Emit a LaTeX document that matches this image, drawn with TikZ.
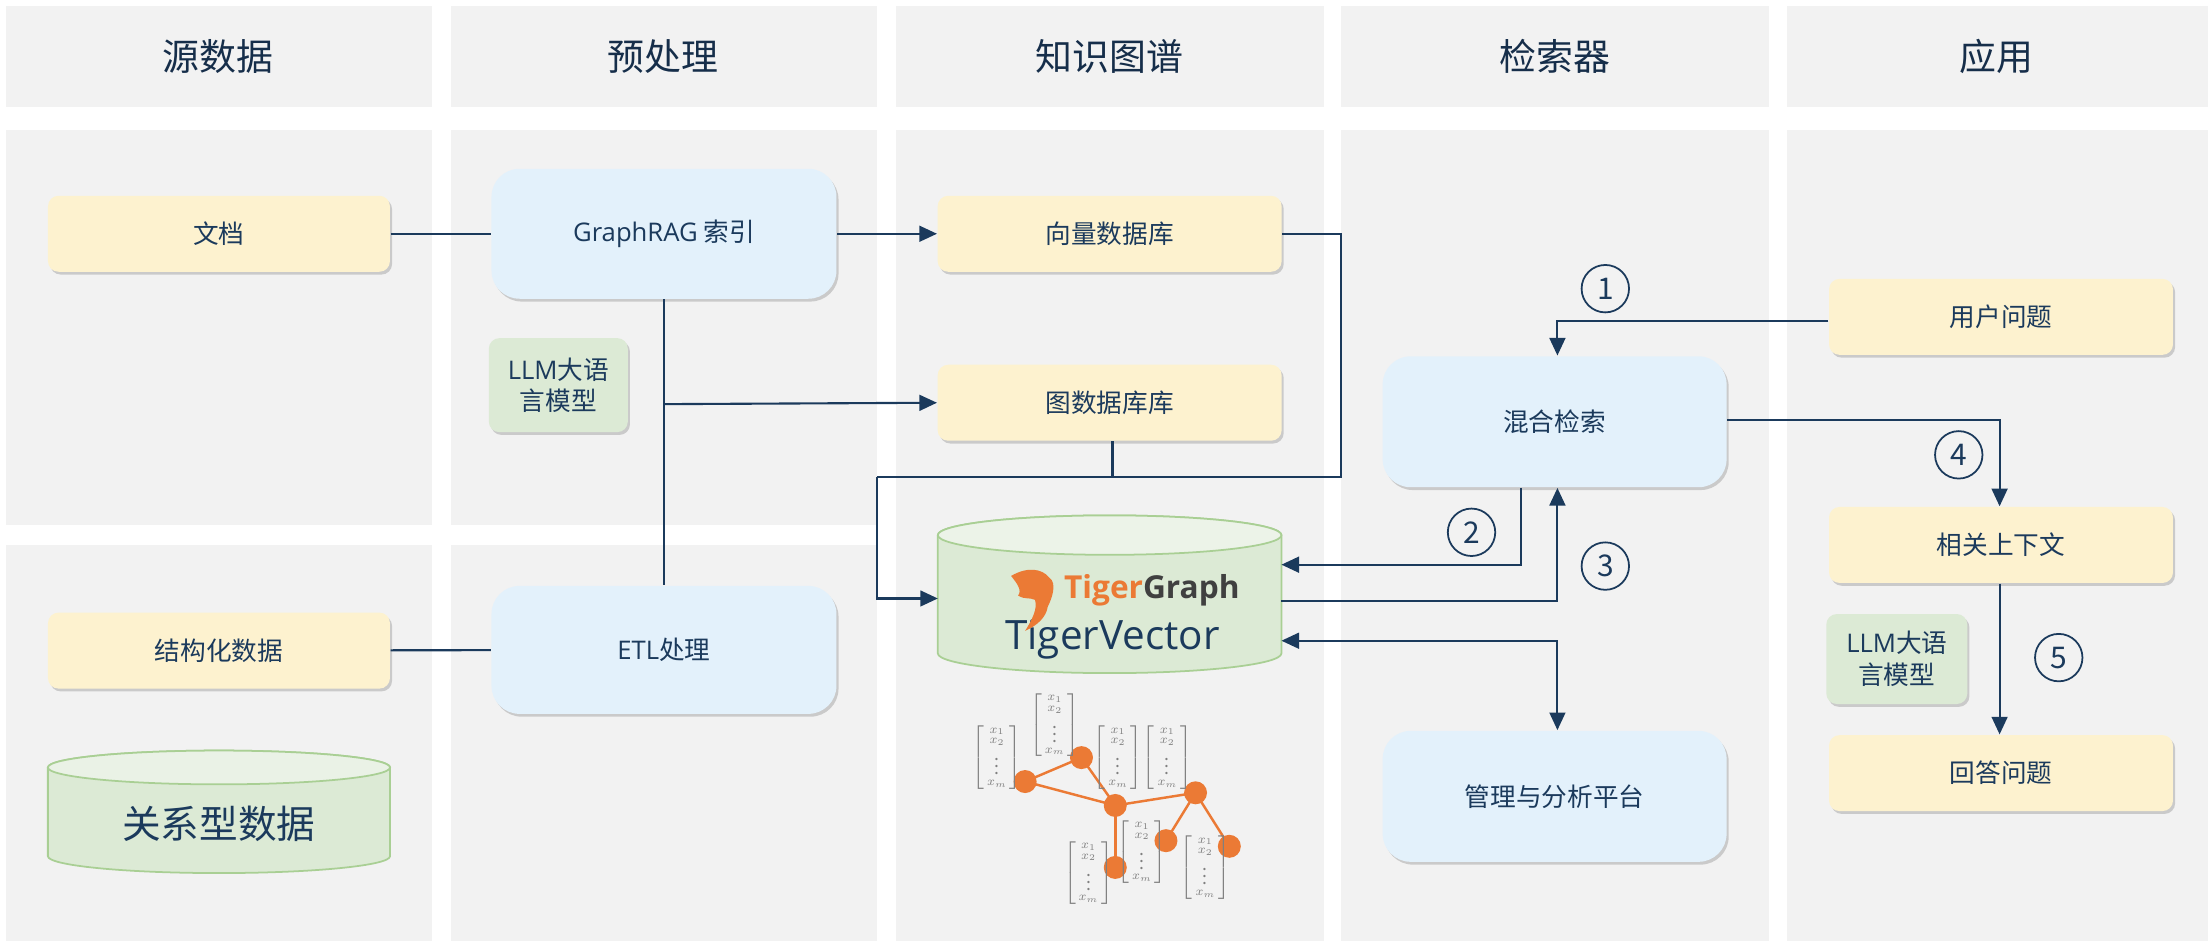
\documentclass[tikz,border=0pt]{standalone}
\usepackage{fontspec}
\usepackage{amsmath}
\usepackage{graphicx}
\setmainfont{Noto Sans CJK SC}
\newfontfamily\latn{Open Sans}
\usetikzlibrary{arrows.meta,shadows,shapes.geometric}
\definecolor{bandc}{HTML}{F2F2F2}
\definecolor{navy}{HTML}{1B3A5C}
\definecolor{ylw}{HTML}{FDF2CF}
\definecolor{blu}{HTML}{E3F1FB}
\definecolor{grn}{HTML}{DCEAD5}
\definecolor{grnb}{HTML}{A9CF94}
\definecolor{org}{HTML}{EB7A35}
\begin{document}
\begin{tikzpicture}[x=0.01408cm,y=-0.01408cm,
  band/.style={fill=bandc,draw=none},
  hdr/.style={font=\fontsize{10.5}{12}\selectfont,text=navy!80!black},
  base/.style={rounded corners=4pt,draw=none,text=navy,font=\fontsize{7.3}{9}\selectfont,align=center,inner sep=0pt,
    drop shadow={shadow xshift=0.6pt,shadow yshift=-0.8pt,opacity=0.35}},
  yb/.style={base,fill=ylw,rounded corners=3pt},
  bb/.style={base,fill=blu,rounded corners=8pt},
  gb/.style={base,fill=grn,rounded corners=3pt},
  ln/.style={draw=navy,line width=0.6pt},
  ar/.style={ln,-{Triangle[length=5pt,width=4.5pt]}},
  num/.style={circle,draw=navy,line width=0.5pt,text=navy,inner sep=0pt,minimum size=27\pgflinewidth,font=\fontsize{8.5}{9}\selectfont\rmfamily},
  vn/.style={circle,fill=org,draw=none,minimum size=0.23cm,inner sep=0pt},
  vec/.style={text=gray,inner sep=0pt}
]
\useasboundingbox (0,0) rectangle (1568,675);
\fill[white] (0,0) rectangle (1568,675);
% bands
\foreach \a/\b in {4/307,320/623,636/940,952/1256,1269/1568}{
  \fill[band] (\a,4) rectangle (\b,76);}
\fill[band] (4,92) rectangle (307,373);
\fill[band] (4,387) rectangle (307,668);
\fill[band] (320,92) rectangle (623,373);
\fill[band] (320,387) rectangle (623,668);
\fill[band] (636,92) rectangle (940,668);
\fill[band] (952,92) rectangle (1256,668);
\fill[band] (1269,92) rectangle (1568,668);
\node[hdr] (h1) at (155,40) {源数据};
\node[hdr] (h2) at (471,40) {预处理};
\node[hdr] (h3) at (788,40) {知识图谱};
\node[hdr] (h4) at (1104,40) {检索器};
\node[hdr] (h5) at (1418,40) {应用};
% nodes
\node[yb,minimum width=3.42cm,minimum height=0.76cm] (doc) at (155.5,166) {文档};
\node[bb,minimum width=3.45cm,minimum height=1.3cm] (grag) at (471.5,166) {{\latn GraphRAG} 索引};
\node[gb,minimum width=1.39cm,minimum height=0.94cm] (llm1) at (396.5,273.5) {{\latn LLM}大语\\言模型};
\node[bb,minimum width=3.45cm,minimum height=1.28cm] (etl) at (471.5,461.5) {{\latn ETL}处理};
\node[yb,minimum width=3.42cm,minimum height=0.76cm] (struct) at (155.5,462) {结构化数据};
\node[yb,minimum width=3.44cm,minimum height=0.76cm] (vdb) at (788,166) {向量数据库};
\node[yb,minimum width=3.44cm,minimum height=0.76cm] (gdb) at (788,286) {图数据库库};
\node[bb,minimum width=3.44cm,minimum height=1.31cm] (hyb) at (1104,299.5) {混合检索};
\node[bb,minimum width=3.44cm,minimum height=1.31cm] (mgmt) at (1104,565.5) {管理与分析平台};
\node[yb,minimum width=3.44cm,minimum height=0.76cm] (uq) at (1421,225) {用户问题};
\node[yb,minimum width=3.44cm,minimum height=0.76cm] (ctx) at (1421,387) {相关上下文};
\node[gb,minimum width=1.41cm,minimum height=0.9cm] (llm2) at (1347,468) {{\latn LLM}大语\\言模型};
\node[yb,minimum width=3.44cm,minimum height=0.76cm] (ans) at (1421,549) {回答问题};
% relational cylinder
\fill[grn,draw=grnb,line width=0.5pt] (34,545) -- (34,608) arc[start angle=180,end angle=0,x radius=121.5,y radius=12] -- (277,545) arc[start angle=0,end angle=-180,x radius=121.5,y radius=12];
\draw[grnb,line width=0.5pt,fill=grn!60!white] (155.5,545) ellipse[x radius=121.5,y radius=12];
\node[text=navy,font=\fontsize{11}{12}\selectfont] (rel) at (155.5,585) {关系型数据};
% TigerVector cylinder
\fill[grn,draw=grnb,line width=0.5pt] (666,380) -- (666,464) arc[start angle=180,end angle=0,x radius=122,y radius=14] -- (910,380) arc[start angle=0,end angle=-180,x radius=122,y radius=14];
\draw[grnb,line width=0.5pt,fill=grn!55!white] (788,380) ellipse[x radius=122,y radius=14];
\node[text=navy,font=\latn\fontsize{11.5}{12}\selectfont] (tv) at (790,454) {TigerVector};
\node[font=\latn\bfseries\fontsize{9}{10}\selectfont,inner sep=0pt] (tg) at (818,419) {\textcolor{org}{Tiger}\textcolor{black!75}{Graph}};
\coordinate (cl) at (666,425);
\coordinate (cr1) at (910,401);
\coordinate (cr2) at (910,427);
\coordinate (cr3) at (910,455);
% tiger icon (stylised)
\fill[org] (718,409) .. controls (730,402) and (740,404) .. (745,410)
  .. controls (751,414) and (747,425) .. (744,431) .. controls (743,438) and (737,444) .. (728,448)
  .. controls (733,440) and (737,432) .. (735,426) .. controls (731,424) and (728,426) .. (723,423)
  .. controls (726,419) and (722,414) .. cycle;
% graph
\foreach \n/\x/\y in {A/728/555,B/768/538,C/792/572,D/849/563,E/828/597,F/873/601,G/792/616}{
  \coordinate (p\n) at (\x,\y);}
\foreach \u/\v in {A/B,A/C,B/C,C/D,C/G,D/E,D/F}{\draw[org,line width=0.7pt] (p\u)--(p\v);}
\foreach \n in {A,B,C,D,E,F,G}{\node[vn] (g\n) at (p\n) {};}
\foreach \i/\x/\y in {1/708/538,2/749/515,3/794/538,4/829/538,5/811/605,6/773/620,7/856/616}{
  \node[vec] (v\i) at (\x,\y) {\scalebox{0.5}{$\left[\begin{smallmatrix}x_1\\x_2\\\vdots\\x_m\end{smallmatrix}\right]$}};}
% connectors
\draw[ln] (doc) -- (grag);
\draw[ar] (grag) -- (vdb);
\draw[ln] (grag.south) -- (etl.north);
\coordinate (j1) at (471,287);
\draw[ar] (j1) -- (gdb.west);
\draw[ln] (struct) -- (etl);
\coordinate (k1) at (952,166);
\coordinate (k2) at (952,339);
\coordinate (k3) at (623,339);
\draw[ln] (vdb.east) -- (k1) -- (k2) -- (k3);
\coordinate (k4) at (790,339);
\draw[ln] (gdb.south -| k4) -- (k4);
\draw[ar] (k3) |- (cl);
\coordinate (m1) at (1080,401);
\draw[ar] (hyb.south -| m1) -- (m1) -- (cr1);
\coordinate (m2) at (1106,427);
\draw[ar] (cr2) -- (m2) -- (hyb.south -| m2);
\coordinate (m3) at (1106,228);
\draw[ar] (uq.west |- m3) -- (m3) -- (hyb.north -| m3);
\coordinate (m4) at (1420,298);
\draw[ar] (hyb.east |- m4) -- (m4) -- (ctx.north -| m4);
\draw[ar] (ctx.south -| m4) -- (ans.north -| m4);
\coordinate (m5) at (1106,455);
\draw[ln,{Triangle[length=5pt,width=4.5pt]}-{Triangle[length=5pt,width=4.5pt]}] (cr3) -- (m5) -- (mgmt.north -| m5);
% numbers
\node[num] (n1) at (1140,205) {1};
\node[num] (n2) at (1045,378) {2};
\node[num] (n3) at (1140,402) {3};
\node[num] (n4) at (1391,323) {4};
\node[num] (n5) at (1462,467) {5};
\end{tikzpicture}
\end{document}
